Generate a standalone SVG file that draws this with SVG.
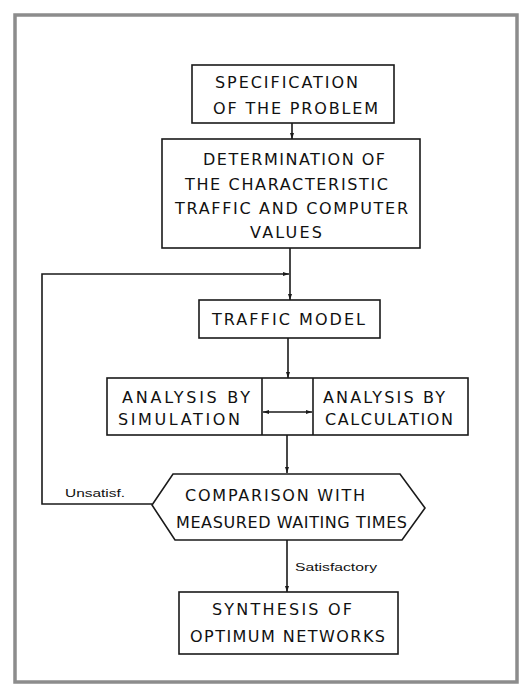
<svg xmlns="http://www.w3.org/2000/svg" width="521" height="687" viewBox="0 0 521 687">
  <defs>
    <marker id="arrow" viewBox="0 0 6 4" refX="6" refY="2" markerWidth="6" markerHeight="4" markerUnits="userSpaceOnUse" orient="auto-start-reverse">
      <path d="M0,0 L6,2 L0,4 Z" fill="#1a1a1a"/>
    </marker>
  </defs>
  <style>
    .frame { fill: none; stroke: #8c8c8c; stroke-width: 3.5; }
    .box { fill: #ffffff; stroke: #1a1a1a; stroke-width: 1.6; }
    .edge { fill: none; stroke: #1a1a1a; stroke-width: 1.6; }
    .lbl { font-family: "DejaVu Sans", "Liberation Sans", sans-serif; font-size: 16px; fill: #111; }
    .note { font-family: "Liberation Sans", "DejaVu Sans", sans-serif; font-size: 11px; fill: #111; }
  </style>
  <rect width="521" height="687" fill="#ffffff"/>
  <!-- outer frame -->
  <rect class="frame" x="15" y="15" width="502" height="667"/>

  <g id="specification">
    <rect class="box" x="192" y="65" width="202" height="58"/>
    <text class="lbl" x="215" y="88" textLength="143" lengthAdjust="spacing">SPECIFICATION</text>
    <text class="lbl" x="213" y="114" textLength="165" lengthAdjust="spacing">OF THE PROBLEM</text>
  </g>

  <g id="determination">
    <rect class="box" x="162" y="139" width="258" height="109"/>
    <text class="lbl" x="203" y="165" textLength="182" lengthAdjust="spacing">DETERMINATION OF</text>
    <text class="lbl" x="185" y="190" textLength="203" lengthAdjust="spacing">THE CHARACTERISTIC</text>
    <text class="lbl" x="175" y="214" textLength="233" lengthAdjust="spacing">TRAFFIC AND COMPUTER</text>
    <text class="lbl" x="250" y="238" textLength="72" lengthAdjust="spacing">VALUES</text>
  </g>

  <g id="traffic-model">
    <rect class="box" x="199" y="300" width="181" height="38"/>
    <text class="lbl" x="212" y="325" textLength="153" lengthAdjust="spacing">TRAFFIC MODEL</text>
  </g>

  <g id="analysis">
    <rect class="box" x="107" y="378" width="361" height="57"/>
    <line class="edge" x1="262" y1="378" x2="262" y2="435"/>
    <line class="edge" x1="313" y1="378" x2="313" y2="435"/>
    <text class="lbl" x="122" y="403" textLength="128" lengthAdjust="spacing">ANALYSIS BY</text>
    <text class="lbl" x="118" y="425" textLength="122" lengthAdjust="spacing">SIMULATION</text>
    <text class="lbl" x="323" y="403" textLength="122" lengthAdjust="spacing">ANALYSIS BY</text>
    <text class="lbl" x="325" y="425" textLength="128" lengthAdjust="spacing">CALCULATION</text>
  </g>

  <g id="comparison">
    <polygon class="box" points="173,474 400,474 425,508 402,540 175,540 152,505"/>
    <text class="lbl" x="185" y="501" textLength="180" lengthAdjust="spacing">COMPARISON WITH</text>
    <text class="lbl" x="176" y="528" textLength="231" lengthAdjust="spacing">MEASURED WAITING TIMES</text>
  </g>

  <g id="synthesis">
    <rect class="box" x="179" y="592" width="219" height="62"/>
    <text class="lbl" x="212" y="615" textLength="140" lengthAdjust="spacing">SYNTHESIS OF</text>
    <text class="lbl" x="190" y="642" textLength="195" lengthAdjust="spacing">OPTIMUM NETWORKS</text>
  </g>

  <!-- connectors, drawn over the node fills -->
  <g id="connectors">
    <line class="edge" x1="292" y1="123" x2="292" y2="139" marker-end="url(#arrow)"/>
    <line class="edge" x1="290" y1="248" x2="290" y2="300" marker-end="url(#arrow)"/>
    <path class="edge" d="M152,504 H42 V274 H289" marker-end="url(#arrow)"/>
    <line class="edge" x1="288" y1="338" x2="288" y2="378" marker-end="url(#arrow)"/>
    <line class="edge" x1="263" y1="412" x2="312" y2="412" marker-start="url(#arrow)" marker-end="url(#arrow)"/>
    <line class="edge" x1="287" y1="435" x2="287" y2="473" marker-end="url(#arrow)"/>
    <line class="edge" x1="287" y1="540" x2="287" y2="592" marker-end="url(#arrow)"/>
    <text class="note" x="65" y="497" textLength="60" lengthAdjust="spacingAndGlyphs">Unsatisf.</text>
    <text class="note" x="295" y="571" textLength="82" lengthAdjust="spacingAndGlyphs">Satisfactory</text>
  </g>
</svg>
